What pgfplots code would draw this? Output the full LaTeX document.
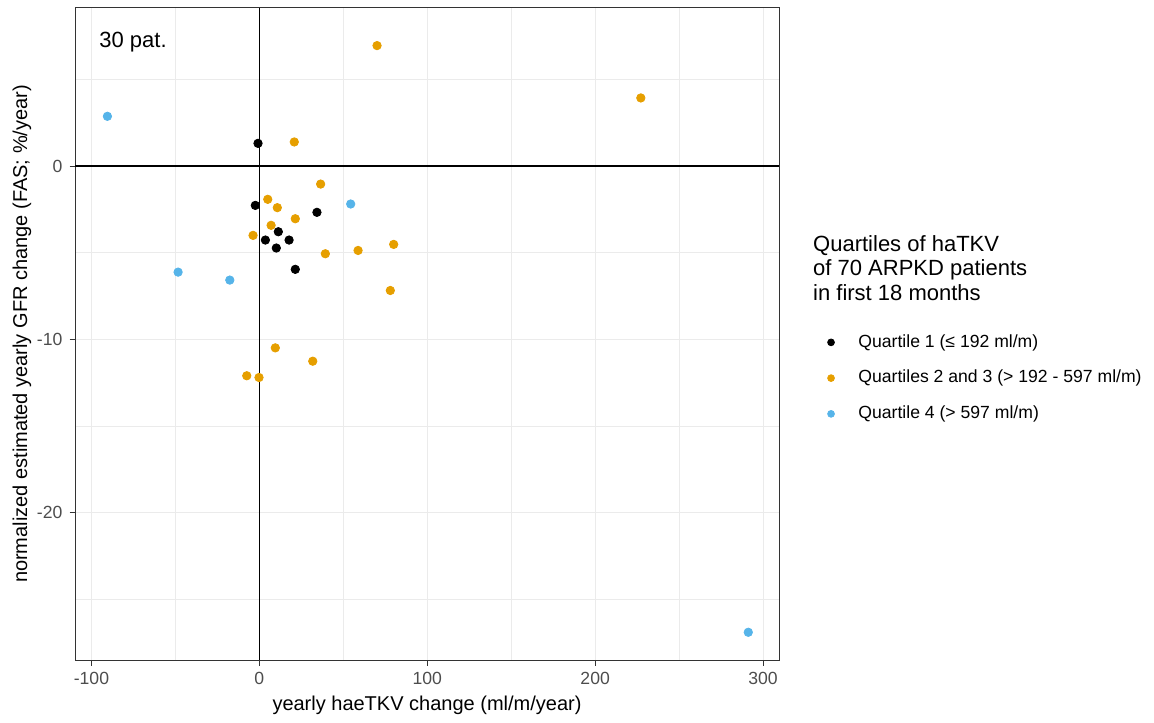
\documentclass[border=0pt]{standalone}
\usepackage{fontspec}
\setmainfont{Liberation Sans}
\usepackage{pgfplots}
\pgfplotsset{compat=1.18}
\definecolor{qone}{HTML}{000000}
\definecolor{qtwo}{HTML}{E69F00}
\definecolor{qfour}{HTML}{56B4E9}
\definecolor{gridmaj}{HTML}{EBEBEB}
\definecolor{grey20}{HTML}{333333}
\definecolor{grey30}{HTML}{4D4D4D}
\begin{document}
\begin{tikzpicture}
\useasboundingbox (-37.5pt,-31pt) rectangle (539.5pt,330pt);
\begin{axis}[
  at={(0pt,0pt)}, anchor=south west,
  scale only axis, width=352pt, height=326pt,
  xmin=-109.8, xmax=309.5, ymin=-28.5, ymax=9.12,
  xtick={-100,0,100,200,300}, ytick={-20,-10,0},
  minor xtick={-50,50,150,250}, minor ytick={-25,-15,-5,5},
  grid=both,
  major grid style={color=gridmaj, line width=0.55pt},
  minor grid style={color=gridmaj, line width=0.3pt},
  axis line style={color=grey20, line width=0.5pt},
  tick style={color=grey20, line width=0.5pt},
  tick align=outside, major tick length=2.75pt, minor tick length=0pt,
  tick pos=left,
  tick label style={font=\fontsize{8.8}{10}\selectfont, text=grey30},
  /pgf/number format/assume math mode=true,
  xlabel={yearly haeTKV change (ml/m/year)},
  ylabel={normalized estimated yearly GFR change (FAS; \%/year)},
  label style={font=\fontsize{11}{13}\selectfont},
  every axis x label/.style={at={(axis description cs:0.5,-0.069)}, anchor=center},
  every axis y label/.style={at={(axis description cs:-0.0753,0.5)}, rotate=90, anchor=center},
  clip mode=individual,
  legend style={at={(axis description cs:1.0685,0.506)}, anchor=north west, draw=none, fill=none,
    font=\fontsize{8.8}{10}\selectfont, row sep=6pt, inner sep=0pt,
    /tikz/every odd column/.append style={column sep=10pt}},
  legend cell align=left,
  legend image code/.code={\draw[#1, mark size=1.7pt] plot coordinates {(0pt,0pt)};},
]
\addplot[black, line width=0.75pt, forget plot] coordinates {(-109.8,0) (309.5,0)};
\addplot[black, line width=0.75pt, forget plot] coordinates {(0,-28.5) (0,9.12)};
\addplot[only marks, mark=*, mark size=2.1pt, color=qone, mark options={draw=none, fill=qone}] coordinates {
(-0.8,1.31) (-2.4,-2.27) (34.3,-2.67) (11.3,-3.79) (3.6,-4.27) (17.7,-4.27) (10.1,-4.73) (21.4,-5.96)
};
\addlegendentry{Quartile 1 (≤ 192 ml/m)}
\addplot[only marks, mark=*, mark size=2.1pt, color=qtwo, mark options={draw=none, fill=qtwo}] coordinates {
(70.1,6.95) (227.2,3.93) (20.8,1.39) (36.5,-1.04) (5.0,-1.92) (10.7,-2.40) (21.4,-3.04) (7.0,-3.42)
(-3.75,-4.0) (39.3,-5.06) (58.8,-4.87) (80.0,-4.52) (78.0,-7.18) (9.5,-10.49) (31.8,-11.26) (-7.5,-12.1) (-0.2,-12.2)
};
\addlegendentry{Quartiles 2 and 3 (> 192 - 597 ml/m)}
\addplot[only marks, mark=*, mark size=2.1pt, color=qfour, mark options={draw=none, fill=qfour}] coordinates {
(-90.5,2.87) (54.4,-2.19) (-48.4,-6.12) (-17.6,-6.58) (291.2,-26.9)
};
\addlegendentry{Quartile 4 (> 597 ml/m)}
\node[anchor=west, inner sep=0pt, font=\fontsize{11}{13}\selectfont] at (axis cs:-95.5,7.17) {30 pat.};
\node[anchor=north west, inner sep=0pt, align=left, font=\fontsize{11}{12.3}\selectfont] at (axis description cs:1.048,0.652) {Quartiles of haTKV\\of 70 ARPKD patients\\in first 18 months};
\end{axis}
\end{tikzpicture}
\end{document}
